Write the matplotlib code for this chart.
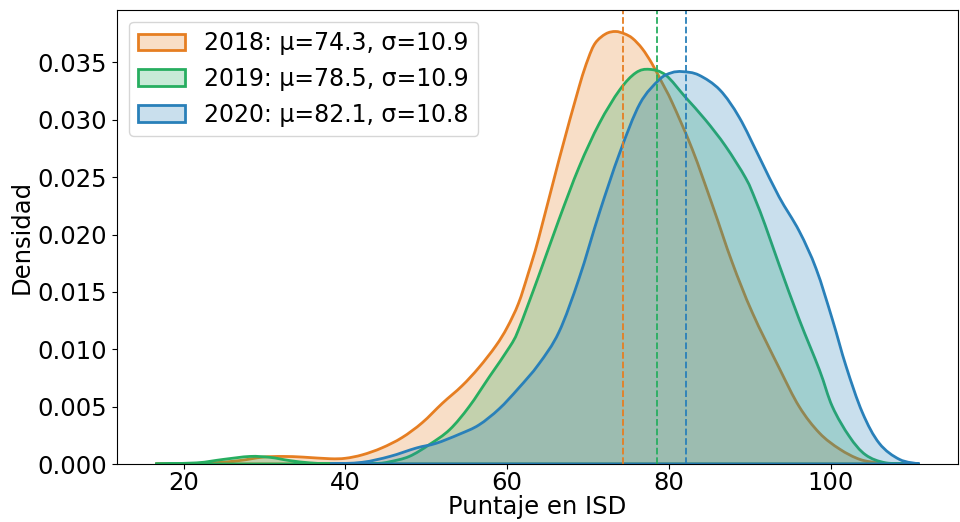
import numpy as np
import matplotlib
matplotlib.use("Agg")
import matplotlib.pyplot as plt
from matplotlib.colors import to_rgba
from matplotlib.path import Path
from matplotlib.patches import PathPatch

plt.rcParams['font.family'] = ['DejaVu Sans']

# ---- data (density curves) ----
years = ["2018", "2019", "2020"]
means = [74.3, 78.5, 82.1]
stds = [10.9, 10.9, 10.8]
colors = ["#e67e22", "#27ae60", "#2980b9"]

x_2018 = [16.5, 20.0, 23.6, 26.9, 29.8, 32.3, 34.8, 38.1, 40.0, 42.1, 44.5, 47.0,
          49.5, 52.0, 54.4, 56.5, 58.6, 60.0, 61.4, 62.6, 63.9, 66.4, 68.9, 70.0,
          70.9, 72.2, 73.4, 74.5, 75.5, 76.7, 77.9, 79.1, 80.4, 82.9, 85.4, 87.8,
          90.3, 93.6, 96.1, 98.6, 101.1, 103.6, 106.0, 108.5, 110.8]
d_2018 = [0.0, 0.00002, 0.0001, 0.0003, 0.0006, 0.00066, 0.0006, 0.00046, 0.0005,
          0.0008, 0.0014, 0.0023, 0.0036, 0.0053, 0.0068, 0.0084, 0.0103, 0.0119,
          0.0140, 0.0166, 0.0197, 0.0265, 0.0329, 0.0353, 0.0367, 0.0375, 0.0377,
          0.0375, 0.0371, 0.0362, 0.0349, 0.0333, 0.0315, 0.0274, 0.0225, 0.0176,
          0.0132, 0.0084, 0.0050, 0.0027, 0.0013, 0.0004, 0.0001, 0.00002, 0.0]

x_2019 = [16.5, 21.6, 24.9, 28.2, 30.7, 33.1, 35.6, 38.0, 41.0, 44.0, 45.5, 47.9,
          50.4, 52.9, 55.3, 57.8, 60.3, 61.4, 63.9, 66.4, 68.9, 71.4, 73.9, 75.9,
          77.6, 79.6, 82.0, 84.5, 87.0, 89.5, 90.7, 91.9, 93.6, 96.1, 98.6, 100.2,
          102.3, 104.3, 106.8, 110.0]
d_2019 = [0.0, 0.0001, 0.0004, 0.00066, 0.00058, 0.0003, 0.0001, 0.00002, 0.0,
          0.00005, 0.0002, 0.00066, 0.0017, 0.0030, 0.0050, 0.0076, 0.0102, 0.0117,
          0.0164, 0.0213, 0.0259, 0.0297, 0.0326, 0.0341, 0.0344, 0.0339, 0.0320,
          0.0300, 0.0277, 0.0249, 0.0230, 0.0208, 0.0174, 0.0126, 0.0082, 0.0050,
          0.0024, 0.0008, 0.0001, 0.0]

x_2020 = [38.1, 42.1, 45.5, 48.8, 51.2, 54.1, 56.5, 59.0, 61.4, 63.9, 66.4, 68.9,
          71.4, 73.9, 76.4, 78.8, 80.3, 81.7, 83.7, 86.3, 88.7, 91.2, 93.6, 96.1,
          98.2, 100.2, 101.9, 103.9, 106.0, 108.5, 111.0]
d_2020 = [0.0, 0.00015, 0.00066, 0.0014, 0.0018, 0.0026, 0.0034, 0.0048, 0.0066,
          0.0087, 0.0115, 0.0162, 0.0219, 0.0271, 0.0314, 0.0335, 0.0341, 0.0342,
          0.0339, 0.0326, 0.0302, 0.0267, 0.0233, 0.0203, 0.0170, 0.0126, 0.0085,
          0.0045, 0.0018, 0.0004, 0.0]

xs = [x_2018, x_2019, x_2020]
ds = [d_2018, d_2019, d_2020]


def smooth_area_path(x, y):
    """Closed path through the read points, drawn with Catmull-Rom Bezier segments."""
    pts = np.column_stack([x, y]).astype(float)
    n = len(pts)
    verts = [pts[0]]
    codes = [Path.MOVETO]
    for i in range(n - 1):
        p0 = pts[i - 1] if i > 0 else pts[i]
        p1 = pts[i]
        p2 = pts[i + 1]
        p3 = pts[i + 2] if i + 2 < n else pts[i + 1]
        c1 = p1 + (p2 - p0) / 6.0
        c2 = p2 - (p3 - p1) / 6.0
        c1[1] = max(c1[1], 0.0)
        c2[1] = max(c2[1], 0.0)
        verts += [c1, c2, p2]
        codes += [Path.CURVE4] * 3
    verts += [[pts[-1, 0], 0.0], [pts[0, 0], 0.0], pts[0]]
    codes += [Path.LINETO, Path.LINETO, Path.CLOSEPOLY]
    return Path(np.array(verts), codes)


fig = plt.figure(figsize=(9.6, 5.22), dpi=100)
ax = fig.add_axes([0.1219, 0.1111, 0.876, 0.870])

FS = 17.5
for yr, m, s, c, x, d in zip(years, means, stds, colors, xs, ds):
    patch = PathPatch(smooth_area_path(x, d), facecolor=to_rgba(c, 0.25),
                      edgecolor=c, linewidth=2, label=f"{yr}: μ={m}, σ={s}")
    ax.add_patch(patch)

ax.autoscale_view()
for m, c in zip(means, colors):
    ax.axvline(m, color=c, linestyle="--", linewidth=1.3)

ax.set_ylim(bottom=0)
ax.set_xticks([20, 40, 60, 80, 100])
ax.set_yticks([0.0, 0.005, 0.010, 0.015, 0.020, 0.025, 0.030, 0.035])
ax.yaxis.set_major_formatter(matplotlib.ticker.FormatStrFormatter('%.3f'))
ax.tick_params(labelsize=FS)
ax.tick_params(axis='x', pad=1.5)
ax.set_xlabel("Puntaje en ISD", fontsize=FS, labelpad=0)
ax.set_ylabel("Densidad", fontsize=FS, labelpad=3)
ax.legend(loc="upper left", fontsize=17)

fig.savefig("out.png", dpi=100)
